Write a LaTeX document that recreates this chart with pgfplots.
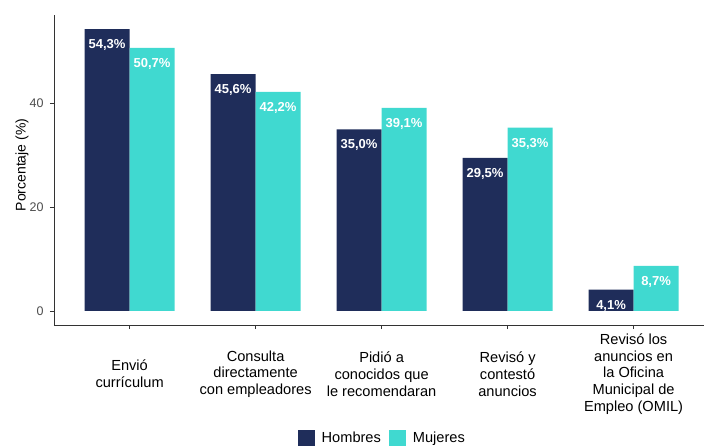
\documentclass[border=0pt]{standalone}
\usepackage{fontspec}
\setmainfont{Liberation Sans}
\usepackage{pgfplots}
\pgfplotsset{compat=1.18}
\definecolor{hom}{HTML}{1F2D5A}
\definecolor{muj}{HTML}{40D9D0}
\definecolor{tickgray}{HTML}{4D4D4D}
\definecolor{axisgray}{HTML}{333333}
\begin{document}
\begin{tikzpicture}
\useasboundingbox (0bp,0bp) rectangle (704bp,446bp);
\begin{axis}[
  at={(54bp,121bp)}, anchor=south west,
  scale only axis, width=650bp, height=310bp,
  xmin=0.4, xmax=5.559, ymin=-2.715, ymax=57.015,
  axis x line*=bottom, axis y line*=left,
  axis line style={axisgray, line width=0.8bp},
  ybar=0pt, bar width=45bp,
  xtick={1,2,3,4,5},
  xticklabels={{Envió\\currículum},{Consulta\\directamente\\con empleadores},{Pidió a\\conocidos que\\le recomendaran},{Revisó y\\contestó\\anuncios},{Revisó los\\anuncios en\\la Oficina\\Municipal de\\Empleo (OMIL)}},
  ytick={0,20,40},
  tick align=outside, major tick length=4bp,
  tick style={axisgray, line width=0.8bp},
  xticklabel style={anchor=center, align=center, yshift=-45bp, font=\fontsize{14.6bp}{16.7bp}\selectfont, text=black},
  yticklabel style={font=\fontsize{12.5bp}{15bp}\selectfont, text=tickgray, xshift=-3bp},
  /pgf/number format/assume math mode=true,
  nodes near coords, point meta=explicit symbolic,
  every node near coord/.append style={anchor=center, yshift=-16bp, text=white, font=\bfseries\fontsize{13bp}{15bp}\selectfont},
  legend style={draw=none, at={(0.505,-0.365)}, anchor=center, legend columns=2, /tikz/every odd column/.append style={column sep=5bp}, /tikz/every even column/.append style={column sep=6bp}, font=\fontsize{14.6bp}{16bp}\selectfont, cells={anchor=west}},
]
\addplot[fill=hom, draw=none, legend image code/.code={\fill[hom] (0bp,-8.5bp) rectangle (17bp,8.5bp);}] coordinates {
  (1,54.3) [54,3\%]
  (2,45.6) [45,6\%]
  (3,35.0) [35,0\%]
  (4,29.5) [29,5\%]
  (5,4.1) [4,1\%]
};
\addplot[fill=muj, draw=none, legend image code/.code={\fill[muj] (0bp,-8.5bp) rectangle (17bp,8.5bp);}] coordinates {
  (1,50.7) [50,7\%]
  (2,42.2) [42,2\%]
  (3,39.1) [39,1\%]
  (4,35.3) [35,3\%]
  (5,8.7) [8,7\%]
};
\legend{Hombres,Mujeres}
\end{axis}
\node[rotate=90, font=\fontsize{14bp}{16bp}\selectfont] at (22bp,281bp) {Porcentaje (\%)};
\end{tikzpicture}
\end{document}
